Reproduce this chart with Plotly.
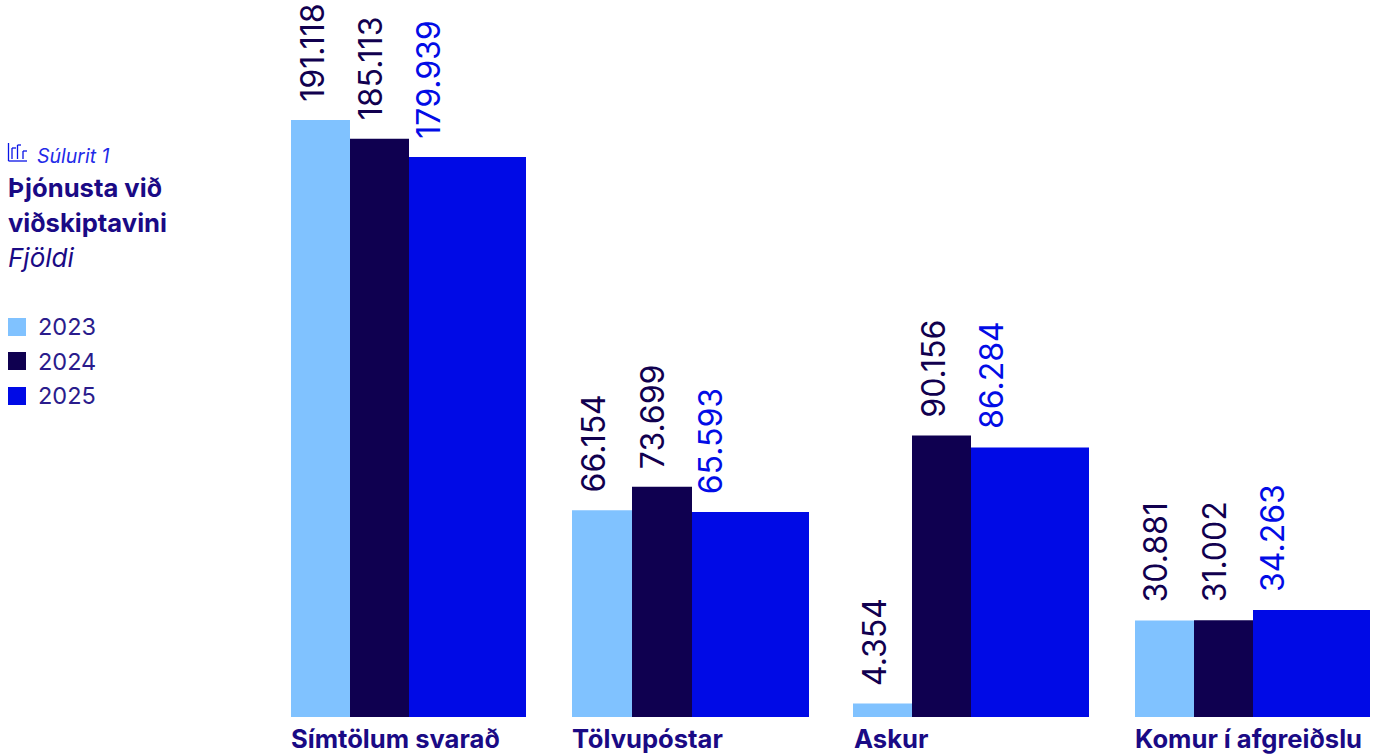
import plotly.graph_objects as go

categories = ["Símtölum svarað", "Tölvupóstar", "Askur", "Komur í afgreiðslu"]
years = ["2023", "2024", "2025"]
v2023 = [191118, 66154, 4354, 30881]
v2024 = [185113, 73699, 90156, 31002]
v2025 = [179300, 65593, 86284, 34263]
labels2023 = ["191.118", "66.154", "4.354", "30.881"]
labels2024 = ["185.113", "73.699", "90.156", "31.002"]
labels2025 = ["179.939", "65.593", "86.284", "34.263"]
series = [v2023, v2024, v2025]
labels = [labels2023, labels2024, labels2025]
colors = ["#80C2FF", "#0F0050", "#000AE6"]
label_colors = ["#11004F", "#11004F", "#020CE6"]

W, H = 1378, 756
UNIT = 281.4
X0 = 291
BASE = 717
SCALE = 597 / 191118
FONT = "Inter"
INK = "#1A0A85"

# bar placement inside each group, in pixels from the group's start
bar_offsets_px = [[0, -0.4, -0.8, -0.2], [59, 59.6, 58.2, 58.8], [118, 119.6, 117.2, 117.8]]
bar_widths_px = [[59, 60, 59, 59], [59, 60, 59, 59], [117, 117, 118, 117]]
label_offsets = [0.0735, 0.2825, 0.4895]

fig = go.Figure()
for s, name in enumerate(years):
    fig.add_trace(go.Bar(
        x=list(range(len(categories))), y=series[s], name=name,
        offset=[o / UNIT for o in bar_offsets_px[s]],
        width=[w / UNIT for w in bar_widths_px[s]],
        marker=dict(color=colors[s], line=dict(width=0)),
        showlegend=False, hoverinfo="x+y"))

ann = []
for s in range(3):
    for g, v in enumerate(series[s]):
        ann.append(dict(x=g + label_offsets[s], y=v, xref="x", yref="y",
                        text=labels[s][g], textangle=-90, showarrow=False,
                        xanchor="center", yanchor="bottom", yshift=16,
                        font=dict(family=FONT, size=32, color=label_colors[s])))
for g, c in enumerate(categories):
    ann.append(dict(x=g, y=0, xref="x", yref="y", text=f"<b>{c}</b>", showarrow=False,
                    xanchor="left", yanchor="top", yshift=-4, xshift=-2,
                    font=dict(family=FONT, size=25.6, color=INK)))


def px(x, y, text, size, color=INK):
    ann.append(dict(x=x / W, y=1 - y / H, xref="paper", yref="paper", text=text, showarrow=False,
                    xanchor="left", yanchor="middle",
                    font=dict(family=FONT, size=size, color=color)))


px(35, 156, "<i>Súlurit 1</i>", 19.5, "#1F2BE8")
px(6, 188, "<b>Þjónusta við</b>", 25.6)
px(6, 222.6, "<b>viðskiptavini</b>", 25.6)
px(6, 257.4, "<i>Fjöldi</i>", 26)

shapes = []
for i, (y, ty) in enumerate(zip([327, 361, 396], [326.6, 361.7, 395.6])):
    shapes.append(dict(type="rect", xref="paper", yref="paper", x0=8 / W, x1=26 / W,
                       y0=1 - (y + 9) / H, y1=1 - (y - 9) / H, fillcolor=colors[i], line_width=0))
    px(36, ty, years[i], 23.5, "#2A1C8C")

icon_paths = [[(8.5, 143), (8.5, 161), (27, 161)], [(12, 159), (12, 148), (16, 148)],
              [(17.5, 159), (17.5, 145), (21, 145)], [(23, 159), (23, 151), (27, 151)]]
for p in icon_paths:
    for a, b in zip(p, p[1:]):
        shapes.append(dict(type="line", xref="paper", yref="paper",
                           x0=a[0] / W, x1=b[0] / W, y0=1 - a[1] / H, y1=1 - b[1] / H,
                           line=dict(color="#0A14E6", width=1.3)))

fig.update_layout(
    width=W, height=H, margin=dict(l=0, r=0, t=0, b=0),
    paper_bgcolor="white", plot_bgcolor="white", barmode="overlay",
    xaxis=dict(range=[-X0 / UNIT, (W - X0) / UNIT], visible=False, fixedrange=True),
    yaxis=dict(range=[-(H - BASE) / SCALE, BASE / SCALE], visible=False, fixedrange=True),
    annotations=ann, shapes=shapes)
fig.write_html("out.html", config={"displayModeBar": False},
               post_script="document.body.style.margin='0';document.body.style.overflow='hidden';")
